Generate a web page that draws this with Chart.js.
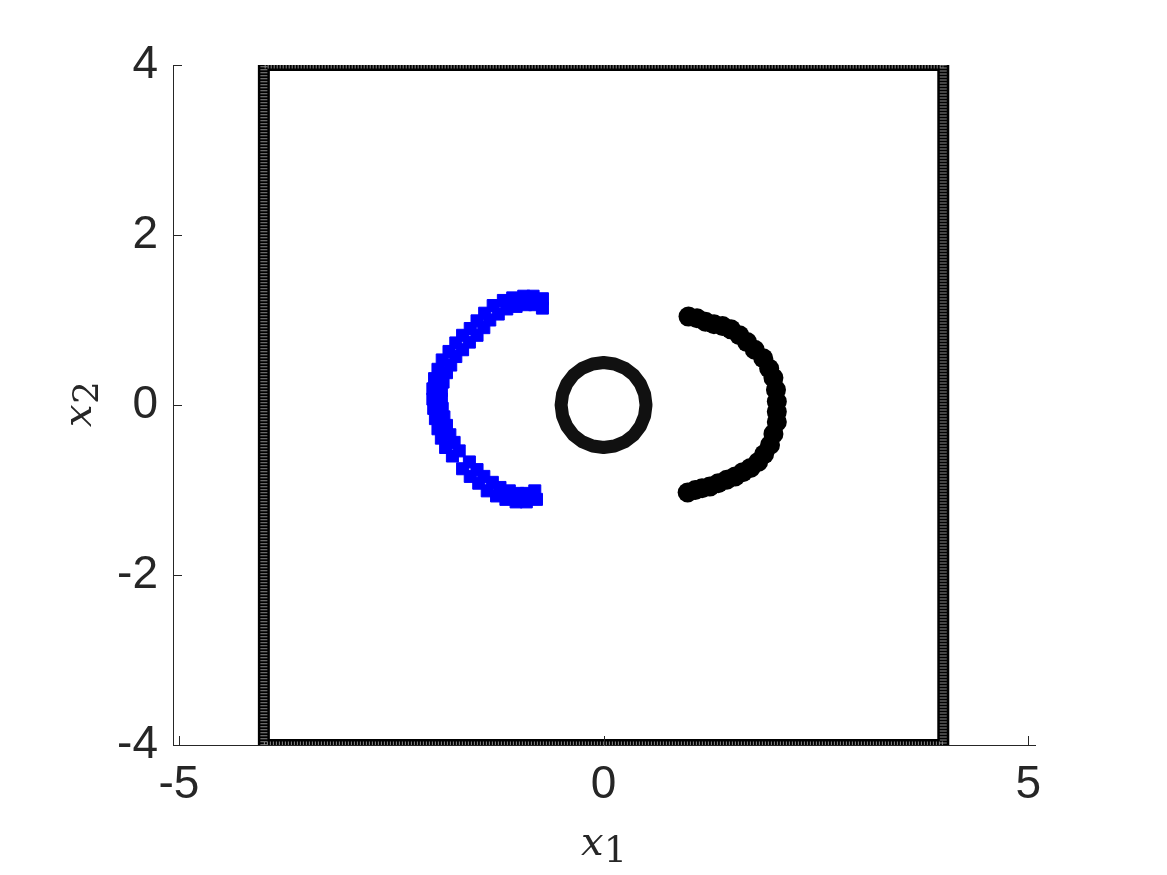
<!DOCTYPE html>
<html>
<head>
<meta charset="utf-8">
<script src="https://cdn.jsdelivr.net/npm/chart.js@4"></script>
<style>
  body { margin: 0; background: #fff; }
  #wrap { width: 1167px; height: 875px; }
</style>
</head>
<body>
<div id="wrap"><canvas id="myChart" width="1167" height="875"></canvas></div>
<script>
// outer boundary (square)
const squareX = [-4, 4, 4, -4, -4];
const squareY = [-4, -4, 4, 4, -4];

// inner obstacle (circle r = 0.5)
const ringX = [0.5, 0.483, 0.433, 0.354, 0.25, 0.129, 0, -0.129, -0.25, -0.354, -0.433, -0.483,
               -0.5, -0.483, -0.433, -0.354, -0.25, -0.129, 0, 0.129, 0.25, 0.354, 0.433, 0.483, 0.5];
const ringY = [0, 0.129, 0.25, 0.354, 0.433, 0.483, 0.5, 0.483, 0.433, 0.354, 0.25, 0.129,
               0, -0.129, -0.25, -0.354, -0.433, -0.483, -0.5, -0.483, -0.433, -0.354, -0.25, -0.129, 0];

// blue arc (left), outer row then inner row
const blueX = [-0.72, -0.83, -0.94, -1.07, -1.18, -1.30, -1.40, -1.49, -1.57, -1.66, -1.74, -1.82, -1.90, -1.95, -1.99, -2.01,
               -2.01, -2.00, -1.98, -1.95, -1.91, -1.86, -1.78, -1.66, -1.57, -1.47, -1.37, -1.26, -1.15, -1.03, -0.91, -0.79,
               -0.72, -0.81, -0.92, -1.03, -1.14, -1.24, -1.34, -1.41, -1.49, -1.58, -1.66, -1.74, -1.80, -1.85, -1.89, -1.91,
               -1.91, -1.90, -1.88, -1.85, -1.81, -1.76, -1.70, -1.58, -1.49, -1.41, -1.31, -1.22, -1.11, -1.01, -0.91, -0.81];
const blueY = [1.25, 1.28, 1.28, 1.26, 1.23, 1.17, 1.08, 0.99, 0.90, 0.82, 0.73, 0.63, 0.53, 0.42, 0.31, 0.19,
               0.07, -0.04, -0.16, -0.28, -0.39, -0.50, -0.60, -0.75, -0.84, -0.92, -1.01, -1.07, -1.11, -1.14, -1.14, -1.11,
               1.14, 1.18, 1.18, 1.16, 1.13, 1.07, 1.00, 0.91, 0.82, 0.74, 0.65, 0.57, 0.47, 0.38, 0.27, 0.17,
               0.07, -0.04, -0.14, -0.24, -0.35, -0.44, -0.54, -0.67, -0.76, -0.84, -0.91, -0.97, -1.01, -1.04, -1.04, -1.01];

// black arc (right)
const blackX = [1.00, 1.10, 1.20, 1.30, 1.40, 1.50, 1.60, 1.69, 1.78, 1.88, 1.95, 2.00, 2.03, 2.04, 2.04,
                2.04, 2.00, 1.96, 1.89, 1.82, 1.73, 1.64, 1.55, 1.45, 1.35, 1.25, 1.16, 1.08, 0.99];
const blackY = [1.04, 1.02, 0.98, 0.95, 0.93, 0.89, 0.82, 0.74, 0.65, 0.55, 0.43, 0.32, 0.18, 0.04, -0.08,
                -0.20, -0.34, -0.47, -0.58, -0.67, -0.74, -0.79, -0.84, -0.88, -0.92, -0.96, -0.98, -1.00, -1.03];

const xTicks = [-5, 0, 5];
const yTicks = [-4, -2, 0, 2, 4];

const toPts = (xs, ys) => xs.map((x, i) => ({ x: x, y: ys[i] }));
const axisColor = '#262626';
const tickFont = { family: "'Liberation Sans', Arial, sans-serif", size: 46 };
const serif = "'DejaVu Serif', 'Liberation Serif', serif";

const matlabAxes = {
    id: 'matlabAxes',
    afterDraw(chart) {
        const c = chart.ctx;
        const xs = chart.scales.x, ys = chart.scales.y;
        const a = chart.chartArea;
        c.save();
        c.strokeStyle = axisColor;
        c.lineWidth = 1;
        c.beginPath();
        xTicks.forEach(v => {
            const px = Math.round(xs.getPixelForValue(v)) + 0.5;
            c.moveTo(px, a.bottom);
            c.lineTo(px, a.bottom - 9);
        });
        yTicks.forEach(v => {
            const py = Math.round(ys.getPixelForValue(v)) + 0.5;
            c.moveTo(a.left, py);
            c.lineTo(a.left + 9, py);
        });
        c.stroke();

        // axis labels
        c.fillStyle = axisColor;
        c.textBaseline = 'alphabetic';
        c.font = 'italic 40px ' + serif;
        c.fillText('x', 581, 855);
        c.font = '36px ' + serif;
        c.fillText('1', 604, 862);

        c.translate(91, 405);
        c.rotate(-Math.PI / 2);
        c.font = 'italic 40px ' + serif;
        c.fillText('x', -22, 0);
        c.font = '36px ' + serif;
        c.fillText('2', 1, 7);
        c.restore();
    }
};

const ctx = document.getElementById('myChart').getContext('2d');

// note: dataset 0 is painted last (on top)
new Chart(ctx, {
    type: 'scatter',
    data: {
        datasets: [
            {
                data: toPts(squareX, squareY),
                showLine: true,
                borderColor: '#8c8c8c',
                borderWidth: 7,
                borderDash: [1, 2],
                borderJoinStyle: 'round',
                pointRadius: 0,
                tension: 0
            },
            {
                data: toPts(squareX, squareY),
                showLine: true,
                borderColor: '#000',
                borderWidth: 12,
                borderJoinStyle: 'round',
                borderCapStyle: 'round',
                pointRadius: 0,
                tension: 0
            },
            {
                data: toPts(ringX, ringY),
                showLine: true,
                borderColor: '#111',
                borderWidth: 13,
                borderJoinStyle: 'round',
                borderCapStyle: 'round',
                pointRadius: 0,
                tension: 0
            },
            {
                data: toPts(blueX, blueY),
                pointStyle: 'rect',
                pointRadius: 8.5,
                backgroundColor: '#0000ff',
                borderColor: '#0000ff',
                borderWidth: 1
            },
            {
                data: toPts(blackX, blackY),
                pointStyle: 'circle',
                pointRadius: 10,
                backgroundColor: '#000',
                borderWidth: 0
            }
        ]
    },
    options: {
        responsive: false,
        animation: false,
        events: [],
        layout: { padding: { top: 65, right: 132, left: 0, bottom: 0 } },
        plugins: { legend: { display: false }, tooltip: { enabled: false } },
        scales: {
            x: {
                type: 'linear',
                min: -5.07,
                max: 5.08,
                afterBuildTicks: s => { s.ticks = xTicks.map(v => ({ value: v })); },
                afterFit: s => { s.height = 130; },
                grid: { display: false, drawTicks: false },
                border: { display: true, color: axisColor, width: 1 },
                ticks: { color: axisColor, font: tickFont, padding: 13, maxRotation: 0 }
            },
            y: {
                type: 'linear',
                min: -4,
                max: 4,
                afterBuildTicks: s => { s.ticks = yTicks.map(v => ({ value: v })); },
                afterFit: s => { s.width = 173; },
                grid: { display: false, drawTicks: false },
                border: { display: true, color: axisColor, width: 1 },
                ticks: { color: axisColor, font: tickFont, padding: 15 }
            }
        }
    },
    plugins: [matlabAxes]
});
</script>
</body>
</html>
